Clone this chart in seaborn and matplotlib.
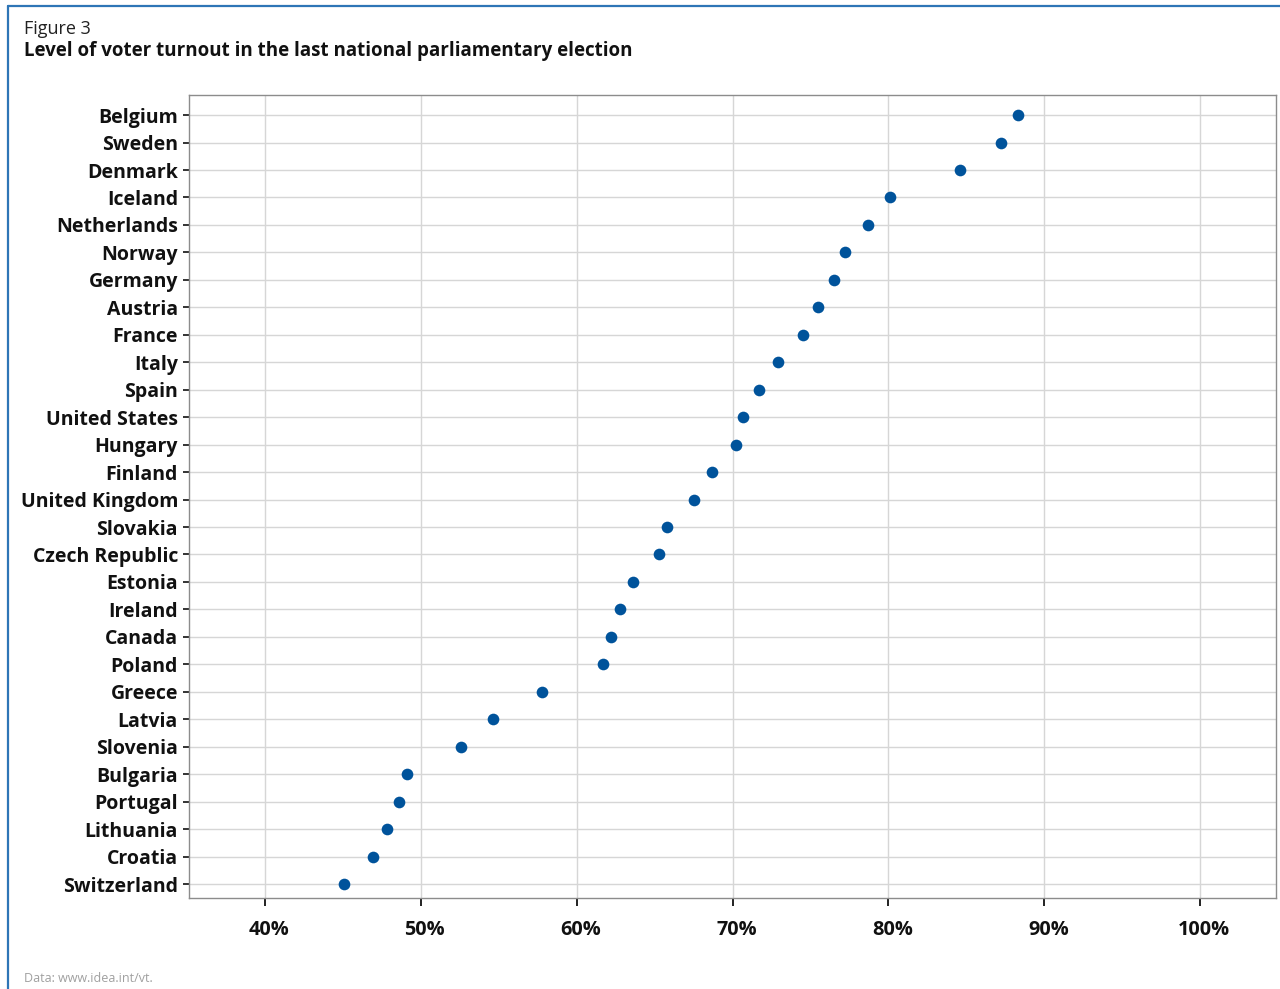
import seaborn as sns
import pandas as pd
import matplotlib.pyplot as plt
from matplotlib.lines import Line2D
from matplotlib.ticker import FuncFormatter
from matplotlib.transforms import ScaledTranslation

countries = ["Belgium", "Sweden", "Denmark", "Iceland", "Netherlands", "Norway",
             "Germany", "Austria", "France", "Italy", "Spain", "United States",
             "Hungary", "Finland", "United Kingdom", "Slovakia", "Czech Republic",
             "Estonia", "Ireland", "Canada", "Poland", "Greece", "Latvia",
             "Slovenia", "Bulgaria", "Portugal", "Lithuania", "Croatia", "Switzerland"]
turnout = [88.3, 87.2, 84.6, 80.1, 78.7, 77.2, 76.5, 75.5, 74.5, 72.9, 71.7, 70.7,
           70.2, 68.7, 67.5, 65.8, 65.3, 63.6, 62.8, 62.2, 61.7, 57.8, 54.6,
           52.6, 49.1, 48.6, 47.8, 46.9, 45.1]
xticks = [40, 50, 60, 70, 80, 90, 100]

df = pd.DataFrame({"country": countries, "turnout": turnout})

sns.set_theme(style="whitegrid")
plt.rcParams['font.family'] = ['Open Sans', 'DejaVu Sans']

fig = plt.figure(figsize=(12.8, 9.89), dpi=100)
ax = fig.add_axes([0.1477, 0.092, 0.8492, 0.8119])

sns.stripplot(data=df, x="turnout", y="country", order=countries, jitter=False,
              color="#00539b", size=8.4, linewidth=0, ax=ax)

ax.set_xlim(35.13, 104.87)
ax.set_ylim(28.51, -0.73)
ax.set_xticks(xticks)
ax.xaxis.set_major_formatter(FuncFormatter(lambda v, p: f"{v:.0f}%"))
ax.set_xlabel("")
ax.set_ylabel("")

ax.grid(True, color="#d6d6d6", linewidth=1.0)
for s in ax.spines.values():
    s.set_color("#8c8c8c")
    s.set_linewidth(1.0)

ax.tick_params(axis="x", bottom=True, length=6, width=1.3, color="#111111",
               pad=10, labelsize=14.3)
ax.tick_params(axis="y", left=True, length=4, width=1.2, color="#111111",
               pad=4, labelsize=14)
shift = ScaledTranslation(4 / 100, 0, fig.dpi_scale_trans)
for lab in ax.get_xticklabels():
    lab.set_transform(lab.get_transform() + shift)
for lab in ax.get_xticklabels() + ax.get_yticklabels():
    lab.set_fontweight("bold")
    lab.set_color("#111111")

fig.text(0.019, 0.971, "Figure 3", fontsize=13, color="#222222", va="center")
fig.text(0.019, 0.948, "Level of voter turnout in the last national parliamentary election",
         fontsize=13.5, fontweight="bold", color="#111111", va="center")
fig.text(0.019, 0.011, "Data: www.idea.int/vt.", fontsize=9, color="#a0a0a0", va="center")

# blue frame on left and top
fig.add_artist(Line2D([0.0066, 0.0066], [0.0, 0.9935], transform=fig.transFigure,
                      color="#2e75b6", linewidth=1.6))
fig.add_artist(Line2D([0.0066, 1.0], [0.9935, 0.9935], transform=fig.transFigure,
                      color="#2e75b6", linewidth=1.6))

plt.savefig("out.png", dpi=100)
